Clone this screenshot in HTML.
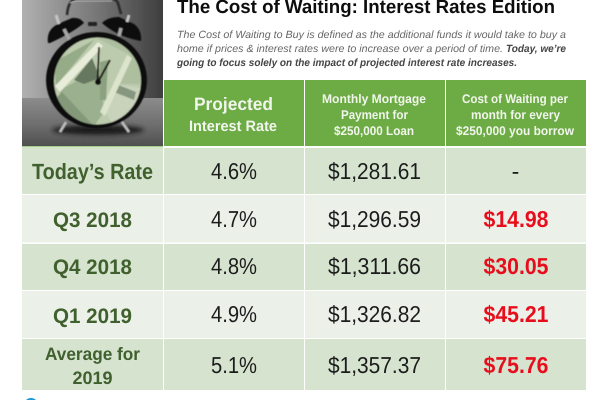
<!DOCTYPE html>
<html lang="en">
<head>
<meta charset="utf-8">
<title>The Cost of Waiting: Interest Rates Edition</title>
<style>
html,body{margin:0;padding:0;background:#fff;width:600px;height:400px;overflow:hidden}
svg{display:block;font-family:"Liberation Sans",sans-serif}
text{text-rendering:geometricPrecision}
.hdr{fill:#f1f6ec;font-weight:bold;text-anchor:middle}
.lbl{fill:#41602f;font-weight:bold;text-anchor:middle}
.val{fill:#1c1c1c;text-anchor:middle;font-size:23px}
.red{fill:#e8101c;font-weight:bold;text-anchor:middle;font-size:23px}
.sub{fill:#666;font-style:italic;font-size:10.5px}
.subb{fill:#444;font-style:italic;font-weight:bold;font-size:10.5px}
</style>
</head>
<body>
<svg width="600" height="400" viewBox="0 0 600 400" xmlns="http://www.w3.org/2000/svg">
<defs>
<linearGradient id="wall" x1="0" x2="1" y1="0" y2="0">
<stop offset="0" stop-color="#b0b0b0"/><stop offset=".5" stop-color="#7a7a7a"/><stop offset="1" stop-color="#3e3e3e"/>
</linearGradient>
<linearGradient id="floor" x1="0" x2="0" y1="0" y2="1">
<stop offset="0" stop-color="#8c8c8c"/><stop offset=".6" stop-color="#6b6b6b"/><stop offset="1" stop-color="#4f4f4f"/>
</linearGradient>
<clipPath id="face-clip"><circle cx="97.500" cy="81" r="43.500"/></clipPath>
<filter id="soft" x="-5%" y="-5%" width="110%" height="110%"><feGaussianBlur stdDeviation="0.6"/></filter>
<filter id="softer" x="-20%" y="-50%" width="140%" height="200%"><feGaussianBlur stdDeviation="2"/></filter>
<filter id="page-soft" x="0" y="0" width="100%" height="100%"><feGaussianBlur stdDeviation="0.3"/></filter>
</defs>

<g filter="url(#page-soft)">
<g>
<rect x="22" y="0" width="141" height="98" fill="url(#wall)"/>
<rect x="22" y="98" width="141" height="48" fill="url(#floor)"/>
<rect x="22" y="146" width="141" height="1.500" fill="#a7cc8e"/>
<g filter="url(#soft)">
<ellipse cx="98" cy="130" rx="46" ry="5" fill="#1a1a1a" filter="url(#softer)"/>
<path d="M67 15 Q68 4 72 1 Q74 -1 78 -1 L112 -1 Q116 -1 118 3 L121 14" fill="none" stroke="#2a2a2a" stroke-width="2.6"/>
<path d="M70 3 Q74 1 78 1 L112 1" fill="none" stroke="#ccc" stroke-width="0.8"/>
<path d="M48 43 Q46 30 58 24 L72 18 Q80 17 84 23 Q72 33 50 43Z" fill="#0e0e0e"/>
<path d="M102 23 Q108 17 119 17 L134 24 Q142 30 141 41 Q118 37 102 23Z" fill="#0e0e0e"/>
<rect x="88" y="22" width="9" height="4" rx="1" fill="#222"/>
<path d="M56 15 L59 24 M129 15 L127 22" stroke="#c4c4c4" stroke-width="3"/>
<path d="M64 29 L70 41 M121 28 L119 36" stroke="#a5a5a5" stroke-width="3.500"/>
<path d="M66 122 L60 132 M122 122 L129 132" stroke="#bcbcbc" stroke-width="2.600"/>
<ellipse cx="96.500" cy="80" rx="50.500" ry="48" fill="#101010"/>
<circle cx="97.500" cy="81" r="43.500" fill="#bccbad"/>
<g clip-path="url(#face-clip)">
<path d="M54 62 L94 40 L56 86Z" fill="#96ab88"/>
<path d="M97 38 L142 40 L142 84 L118 84 L130 55Z" fill="#aebfa0"/>
<path d="M60 90 L100 68 L104 112 L94 126 L60 108Z" fill="#9bb08e"/>
<path d="M74 80 L92 58 L100 78 L84 84Z" fill="#66785e"/>
<path d="M62 92 L92 124 L72 122 L54 100Z" fill="#84997a"/>
<path d="M106 112 L120 85 L142 88 L136 108 L112 124Z" fill="#c9d3bc"/>
<path d="M116 84 L136 92 L134 100 L114 92Z" fill="#87977f"/>
<path d="M100 62 L108 60 L106 100 L100 100Z" fill="#8ba17f"/>
<path d="M55 86 L98 42 L103 46 L60 92Z" fill="#e8edda"/>
<path d="M100 112 L127 55 L132 58 L105 116Z" fill="#dce4cc"/>
</g>
<path d="M97.500 82 L99 47" stroke="#1a1210" stroke-width="1.800"/>
<path d="M98 82 L110 60" stroke="#1a1210" stroke-width="2"/>
<circle cx="98" cy="82" r="3" fill="#111"/>
</g>
</g>

<g>
<text x="177" y="13" font-size="19" font-weight="bold" fill="#0a0a0a" textLength="378" lengthAdjust="spacingAndGlyphs">The Cost of Waiting: Interest Rates Edition</text>
<text class="sub" x="177" y="38" textLength="389" lengthAdjust="spacingAndGlyphs">The Cost of Waiting to Buy is defined as the additional funds it would take to buy a</text>
<text class="sub" x="177" y="52" textLength="326" lengthAdjust="spacingAndGlyphs">home if prices &amp; interest rates were to increase over a period of time.</text>
<text class="subb" x="506" y="52" textLength="60" lengthAdjust="spacingAndGlyphs">Today, we’re</text>
<text class="subb" x="177" y="66" textLength="340" lengthAdjust="spacingAndGlyphs">going to focus solely on the impact of projected interest rate increases.</text>
</g>

<g>
<rect x="164" y="80" width="140" height="66" fill="#6dab45"/>
<rect x="305" y="80" width="140" height="66" fill="#6dab45"/>
<rect x="446" y="80" width="140" height="66" fill="#6dab45"/>
<text class="hdr" x="233.500" y="110" font-size="18" textLength="79" lengthAdjust="spacingAndGlyphs">Projected</text>
<text class="hdr" x="233" y="131" font-size="15" textLength="88" lengthAdjust="spacingAndGlyphs">Interest Rate</text>
<text class="hdr" x="374" y="103" font-size="12.500" textLength="104" lengthAdjust="spacingAndGlyphs">Monthly Mortgage</text>
<text class="hdr" x="374.500" y="119" font-size="12.500" textLength="67" lengthAdjust="spacingAndGlyphs">Payment for</text>
<text class="hdr" x="374" y="135" font-size="12.500" textLength="80" lengthAdjust="spacingAndGlyphs">$250,000 Loan</text>
<text class="hdr" x="515" y="103" font-size="12.500" textLength="106" lengthAdjust="spacingAndGlyphs">Cost of Waiting per</text>
<text class="hdr" x="515.500" y="119" font-size="12.500" textLength="89" lengthAdjust="spacingAndGlyphs">month for every</text>
<text class="hdr" x="515" y="135" font-size="12.500" textLength="118" lengthAdjust="spacingAndGlyphs">$250,000 you borrow</text>
</g>

<g>
<rect x="22" y="148" width="141" height="46" fill="#d5e3cf"/><rect x="164" y="148" width="140" height="46" fill="#d5e3cf"/><rect x="305" y="148" width="140" height="46" fill="#d5e3cf"/><rect x="446" y="148" width="140" height="46" fill="#d5e3cf"/>
<text class="lbl" x="92.500" y="179" font-size="22" textLength="121" lengthAdjust="spacingAndGlyphs">Today’s Rate</text>
<text class="val" x="234" y="179" textLength="46" lengthAdjust="spacingAndGlyphs">4.6%</text>
<text class="val" x="374.500" y="179" textLength="93" lengthAdjust="spacingAndGlyphs">$1,281.61</text>
<text class="val" x="515.500" y="179">-</text>
</g>

<g>
<rect x="22" y="195" width="141" height="47.500" fill="#ebf0e9"/><rect x="164" y="195" width="140" height="47.500" fill="#ebf0e9"/><rect x="305" y="195" width="140" height="47.500" fill="#ebf0e9"/><rect x="446" y="195" width="140" height="47.500" fill="#ebf0e9"/>
<text class="lbl" x="92.500" y="227" font-size="21" textLength="79" lengthAdjust="spacingAndGlyphs">Q3 2018</text>
<text class="val" x="234" y="227" textLength="46" lengthAdjust="spacingAndGlyphs">4.7%</text>
<text class="val" x="374.500" y="227" textLength="93" lengthAdjust="spacingAndGlyphs">$1,296.59</text>
<text class="red" x="516" y="227" textLength="65" lengthAdjust="spacingAndGlyphs">$14.98</text>
</g>

<g>
<rect x="22" y="244" width="141" height="46" fill="#d5e3cf"/><rect x="164" y="244" width="140" height="46" fill="#d5e3cf"/><rect x="305" y="244" width="140" height="46" fill="#d5e3cf"/><rect x="446" y="244" width="140" height="46" fill="#d5e3cf"/>
<text class="lbl" x="92.500" y="274" font-size="21" textLength="79" lengthAdjust="spacingAndGlyphs">Q4 2018</text>
<text class="val" x="234" y="274" textLength="46" lengthAdjust="spacingAndGlyphs">4.8%</text>
<text class="val" x="374.500" y="274" textLength="93" lengthAdjust="spacingAndGlyphs">$1,311.66</text>
<text class="red" x="516" y="274" textLength="65" lengthAdjust="spacingAndGlyphs">$30.05</text>
</g>

<g>
<rect x="22" y="291" width="141" height="47" fill="#ebf0e9"/><rect x="164" y="291" width="140" height="47" fill="#ebf0e9"/><rect x="305" y="291" width="140" height="47" fill="#ebf0e9"/><rect x="446" y="291" width="140" height="47" fill="#ebf0e9"/>
<text class="lbl" x="92.500" y="323" font-size="21" textLength="79" lengthAdjust="spacingAndGlyphs">Q1 2019</text>
<text class="val" x="234" y="322" textLength="46" lengthAdjust="spacingAndGlyphs">4.9%</text>
<text class="val" x="374.500" y="322" textLength="93" lengthAdjust="spacingAndGlyphs">$1,326.82</text>
<text class="red" x="516" y="322" textLength="65" lengthAdjust="spacingAndGlyphs">$45.21</text>
</g>

<g>
<rect x="22" y="339" width="141" height="51" fill="#d5e3cf"/><rect x="164" y="339" width="140" height="51" fill="#d5e3cf"/><rect x="305" y="339" width="140" height="51" fill="#d5e3cf"/><rect x="446" y="339" width="140" height="51" fill="#d5e3cf"/>
<text class="lbl" x="92.500" y="360" font-size="18" textLength="95" lengthAdjust="spacingAndGlyphs">Average for</text>
<text class="lbl" x="92.500" y="384" font-size="18" textLength="40" lengthAdjust="spacingAndGlyphs">2019</text>
<text class="val" x="234" y="373" textLength="46" lengthAdjust="spacingAndGlyphs">5.1%</text>
<text class="val" x="374.500" y="373" textLength="93" lengthAdjust="spacingAndGlyphs">$1,357.37</text>
<text class="red" x="516" y="373" textLength="65" lengthAdjust="spacingAndGlyphs">$75.76</text>
</g>

<circle cx="31" cy="405" r="7" fill="#1e9ad6"/>
</g>
</svg>
</body>
</html>
